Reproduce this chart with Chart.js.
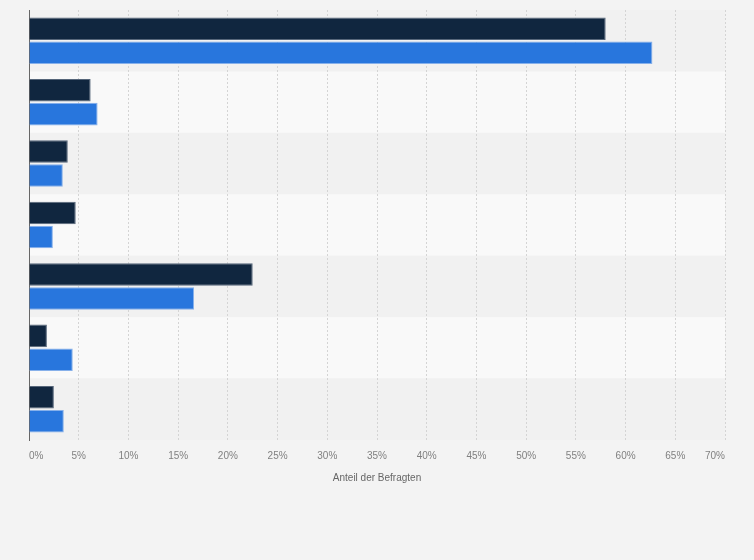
<!DOCTYPE html>
<html>
<head>
<meta charset="utf-8">
<script src="https://cdn.jsdelivr.net/npm/chart.js@4"></script>
<style>
  html, body { margin: 0; padding: 0; background: #f3f3f3; }
  #wrap { width: 754px; height: 560px; }
</style>
</head>
<body>
<div id="wrap"><canvas id="chart" width="754" height="560"></canvas></div>
<script>
// Categories (no labels are shown in the reference)
const categories = ['1', '2', '3', '4', '5', '6', '7'];

// Series values in percent
const seriesDark = [58.0, 6.2, 3.9, 4.7, 22.5, 1.8, 2.5];
const seriesBlue = [62.7, 6.9, 3.4, 2.4, 16.6, 4.4, 3.5];

// X axis ticks
const tickValues = [0, 5, 10, 15, 20, 25, 30, 35, 40, 45, 50, 55, 60, 65, 70];
const axisTitle = 'Anteil der Befragten';

// Alternating row bands behind the bars
const rowBands = {
    id: 'rowBands',
    beforeDraw(chart) {
        const { ctx, chartArea, scales } = chart;
        const y = scales.y;
        const n = chart.data.labels.length;
        ctx.save();
        for (let i = 0; i < n; i++) {
            const c = y.getPixelForValue(i);
            const half = (y.getPixelForValue(1) - y.getPixelForValue(0)) / 2;
            ctx.fillStyle = i % 2 === 0 ? '#f1f1f1' : '#f9f9f9';
            ctx.fillRect(chartArea.left, c - half, chartArea.right - chartArea.left, half * 2);
        }
        ctx.restore();
    }
};

const ctx = document.getElementById('chart').getContext('2d');
new Chart(ctx, {
    type: 'bar',
    data: {
        labels: categories,
        datasets: [{
            label: 'Serie 1',
            data: seriesDark,
            backgroundColor: '#10263f',
            borderColor: '#56667a',
            borderWidth: 1,
            categoryPercentage: 0.78,
            barPercentage: 0.94
        }, {
            label: 'Serie 2',
            data: seriesBlue,
            backgroundColor: '#2876dd',
            borderColor: '#86b0ea',
            borderWidth: 1,
            categoryPercentage: 0.78,
            barPercentage: 0.94
        }]
    },
    options: {
        indexAxis: 'y',
        responsive: false,
        animation: false,
        layout: {
            padding: { top: 10, left: 29, right: 29, bottom: 76 }
        },
        plugins: {
            legend: { display: false },
            tooltip: { enabled: false }
        },
        scales: {
            x: {
                min: 0,
                max: 70,
                afterBuildTicks(scale) {
                    scale.ticks = tickValues.map(v => ({ value: v }));
                },
                grid: {
                    color: '#d4d4d4',
                    drawTicks: false
                },
                border: { display: false, dash: [2, 2] },
                ticks: {
                    align: 'inner',
                    padding: 10,
                    color: '#808080',
                    font: { family: 'Liberation Sans, Arial, sans-serif', size: 10 },
                    callback: v => v + '%'
                },
                title: {
                    display: true,
                    text: axisTitle,
                    color: '#666',
                    padding: { top: 0, bottom: 0 },
                    font: { family: 'Liberation Sans, Arial, sans-serif', size: 10 }
                }
            },
            y: {
                grid: { display: false, drawTicks: false },
                border: { display: true, color: '#666', width: 1 },
                ticks: { display: false }
            }
        }
    },
    plugins: [rowBands]
});
</script>
</body>
</html>
